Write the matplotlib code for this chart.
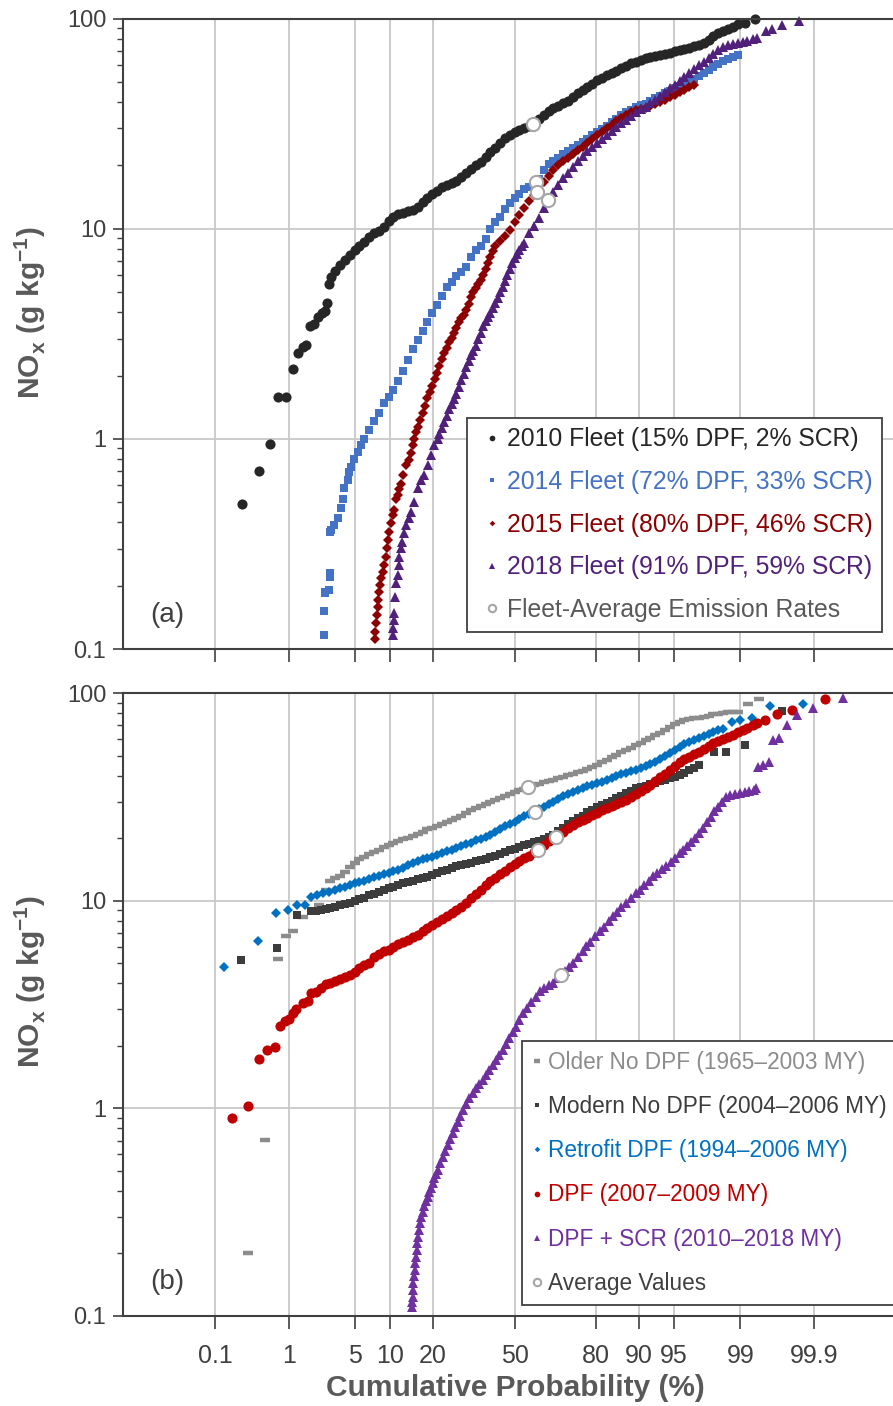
import numpy as np
import matplotlib
matplotlib.use("Agg")
import matplotlib.pyplot as plt
from matplotlib.ticker import NullLocator, LogLocator, FuncFormatter
from statistics import NormalDist

# (cumulative probability %, NOx g/kg), panel (a)
fleet_2010 = [(0.25, 0.49), (0.42, 0.70), (0.58, 0.94), (0.74, 1.58), (0.92, 1.58), (1.11, 2.15),
              (1.27, 2.56), (1.45, 2.75), (1.59, 2.81), (1.76, 3.46), (1.91, 3.52), (2.12, 3.79),
              (2.35, 3.97), (2.52, 4.07), (2.63, 4.44), (2.80, 5.47), (2.91, 5.89),
              (3.22, 6.3), (3.59, 6.7), (4.01, 7.1), (4.46, 7.5), (4.95, 7.9), (5.48, 8.3), (6.06, 8.6),
              (6.68, 9.1), (7.35, 9.5), (8.08, 9.8), (8.85, 10.2), (9.68, 10.9), (10.57, 11.4),
              (11.51, 11.7), (12.51, 11.9), (13.57, 12.1), (14.69, 12.3), (15.87, 12.7), (17.11, 13.4),
              (18.41, 14.0), (19.77, 14.6), (21.19, 15.1), (22.66, 15.7), (24.20, 16.1), (25.79, 16.5),
              (27.43, 16.9), (29.12, 17.7), (30.85, 18.4), (32.64, 19.2), (34.46, 20.0), (36.32, 20.8),
              (38.21, 21.9), (40.13, 23.2), (42.07, 24.2), (44.04, 25.5), (46.02, 27.1), (48.01, 28.0),
              (50.0, 28.7), (51.99, 29.4), (53.98, 30.0), (55.96, 30.8), (57.93, 31.8), (59.87, 33.4),
              (61.79, 34.9), (63.68, 36.3), (65.54, 37.4), (67.36, 38.4), (69.15, 39.5), (70.88, 40.5),
              (72.58, 42.3), (74.22, 44.0), (75.80, 45.5), (77.34, 47.0), (78.81, 48.9), (80.23, 50.7),
              (81.59, 52.2), (82.89, 53.8), (84.13, 55.2), (85.31, 56.5), (86.43, 58.0), (87.49, 59.6),
              (88.49, 61.1), (89.44, 62.4), (90.32, 63.8), (91.15, 65.1), (91.92, 65.9), (92.65, 66.5),
              (93.32, 67.2), (93.94, 67.9), (94.52, 68.8), (95.05, 69.7), (95.54, 70.6), (95.99, 71.6),
              (96.41, 72.7), (96.78, 73.7), (97.13, 74.9), (97.44, 76.2), (97.73, 79.0), (97.98, 83.0),
              (98.21, 85.2), (98.42, 87.4), (98.61, 89.3), (98.78, 91.3), (98.93, 94.0), (99.12, 94.7),
              (99.33, 100)]
fleet_2014 = [(2.47, 0.116), (2.47, 0.152), (2.50, 0.185), (2.55, 0.187), (2.76, 0.19), (2.85, 0.221),
              (2.85, 0.229), (2.85, 0.361), (2.91, 0.368), (3.15, 0.388), (3.40, 0.418), (3.68, 0.467),
              (3.82, 0.520), (3.96, 0.581), (4.26, 0.636), (4.42, 0.697), (4.61, 0.736), (4.92, 0.805),
              (5.28, 0.867), (5.67, 0.931), (6.06, 1.00), (6.68, 1.10), (7.35, 1.21), (8.08, 1.33),
              (8.85, 1.48), (9.68, 1.59), (10.57, 1.71), (11.51, 1.88), (12.51, 2.10), (13.57, 2.36),
              (14.69, 2.68), (15.87, 2.96), (17.11, 3.27), (18.41, 3.60), (19.77, 3.95), (21.19, 4.35),
              (22.66, 4.80), (24.20, 5.25), (25.79, 5.60), (27.43, 5.97), (29.12, 6.25), (30.85, 6.6),
              (32.64, 7.3), (34.46, 7.9), (36.32, 8.3), (38.21, 8.9), (40.13, 10.0), (42.07, 10.8),
              (44.04, 11.4), (46.02, 12.4), (48.01, 13.3), (50.0, 14.0), (51.99, 14.7), (53.98, 15.4),
              (55.96, 15.8), (57.93, 16.4), (59.87, 17.3), (61.79, 19.1), (63.68, 20.3), (65.54, 21.0),
              (67.36, 21.8), (69.15, 22.6), (70.88, 23.4), (72.58, 24.2), (74.22, 25.0), (75.80, 25.9),
              (77.34, 26.8), (78.81, 27.8), (80.23, 28.8), (81.59, 29.8), (82.89, 30.9), (84.13, 32.2),
              (85.31, 33.4), (86.43, 34.6), (87.49, 35.8), (88.49, 36.8), (89.44, 37.8), (90.32, 38.6),
              (91.15, 39.4), (91.92, 40.6), (92.65, 41.8), (93.32, 43.0), (93.94, 44.2), (94.52, 45.4),
              (95.05, 46.6), (95.54, 47.9), (95.99, 49.2), (96.41, 50.5), (96.78, 51.8), (97.13, 53.3),
              (97.44, 55.0), (97.73, 56.8), (97.98, 58.7), (98.21, 61.0), (98.42, 63.0), (98.61, 64.5),
              (98.78, 65.7), (98.93, 66.8)]
fleet_2015 = [(7.50, 0.112), (7.50, 0.121), (7.64, 0.133), (7.74, 0.145), (7.95, 0.159), (7.95, 0.171),
              (8.15, 0.187), (8.26, 0.201), (8.42, 0.217), (8.68, 0.233), (8.97, 0.251), (9.25, 0.275),
              (9.41, 0.301), (9.65, 0.330), (9.82, 0.361), (10.12, 0.396), (10.42, 0.433), (10.75, 0.458),
              (11.07, 0.520), (11.39, 0.539), (11.75, 0.575), (12.07, 0.613), (12.41, 0.671), (13.12, 0.749),
              (13.88, 0.791), (14.25, 0.86), (14.64, 0.931), (15.05, 1.00), (15.47, 1.08), (15.87, 1.14),
              (16.48, 1.23), (17.11, 1.33), (17.75, 1.44), (18.41, 1.56), (19.08, 1.67), (19.77, 1.79),
              (20.47, 1.92), (21.19, 2.06), (21.92, 2.22), (22.66, 2.39), (23.43, 2.55), (24.20, 2.72),
              (24.99, 2.88), (25.79, 3.03), (26.60, 3.20), (27.43, 3.37), (28.26, 3.58), (29.12, 3.75),
              (29.98, 3.88), (30.85, 4.10), (31.74, 4.4), (32.64, 4.75), (33.54, 5.0), (34.46, 5.2),
              (35.38, 5.45), (36.32, 5.7), (37.26, 6.0), (38.21, 6.4), (39.17, 6.85), (40.13, 7.3),
              (41.10, 7.8), (42.07, 8.3), (44.04, 8.7), (46.02, 9.2), (48.01, 9.9), (50.0, 10.7),
              (51.99, 11.6), (53.98, 12.6), (55.96, 13.6), (57.93, 14.5), (59.87, 15.4), (61.79, 16.6),
              (63.68, 17.8), (65.54, 19.0), (67.36, 20.1), (69.15, 21.0), (70.88, 21.8), (72.58, 22.7),
              (74.22, 23.6), (75.80, 24.5), (77.34, 25.5), (78.81, 26.6), (80.23, 27.8), (81.59, 28.9),
              (82.89, 30.0), (84.13, 31.2), (85.31, 32.4), (86.43, 33.6), (87.49, 34.8), (88.49, 35.8),
              (89.44, 36.5), (90.32, 37.1), (91.15, 37.7), (91.92, 38.5), (92.65, 39.3), (93.32, 40.1),
              (93.94, 41.0), (94.52, 42.1), (95.05, 43.3), (95.54, 44.6), (95.99, 45.7), (96.41, 47.0),
              (96.78, 48.2)]
fleet_2018 = [(10.42, 0.117), (10.55, 0.126), (10.75, 0.137), (10.75, 0.148), (10.87, 0.177), (11.07, 0.205),
              (11.39, 0.225), (11.59, 0.251), (11.73, 0.275), (12.07, 0.301), (12.27, 0.324), (12.78, 0.355),
              (13.12, 0.388), (13.72, 0.418), (14.26, 0.450), (15.06, 0.501), (15.87, 0.581), (16.71, 0.636),
              (17.60, 0.671), (18.49, 0.749), (19.41, 0.835), (20.39, 0.931), (21.36, 1.00), (21.92, 1.05),
              (22.66, 1.12), (23.43, 1.20), (24.20, 1.29), (24.99, 1.38), (25.79, 1.46), (26.60, 1.54),
              (27.43, 1.63), (28.26, 1.77), (29.12, 1.90), (29.98, 2.04), (30.85, 2.19), (31.74, 2.35),
              (32.64, 2.50), (33.54, 2.63), (34.46, 2.78), (35.38, 2.98), (36.32, 3.20), (37.26, 3.45),
              (38.21, 3.62), (39.17, 3.80), (40.13, 3.98), (41.10, 4.20), (42.07, 4.45), (43.05, 4.70),
              (44.04, 4.98), (45.03, 5.30), (46.02, 5.65), (47.01, 6.0), (48.01, 6.45), (49.00, 6.85),
              (50.0, 7.25), (51.00, 7.60), (51.99, 7.95), (52.99, 8.25), (53.98, 8.55), (55.96, 9.5),
              (57.93, 10.3), (59.87, 11.3), (61.79, 12.5), (63.68, 13.8), (65.54, 15.0), (67.36, 16.2),
              (69.15, 17.4), (70.88, 18.5), (72.58, 19.7), (74.22, 20.9), (75.80, 22.2), (77.34, 23.4),
              (78.81, 24.6), (80.23, 25.7), (81.59, 26.8), (82.89, 27.9), (84.13, 29.1), (85.31, 30.4),
              (86.43, 31.7), (87.49, 33.0), (88.49, 34.4), (89.44, 35.9), (90.32, 37.1), (91.15, 38.0),
              (91.92, 39.5), (92.65, 41.0), (93.32, 42.7), (93.94, 44.5), (94.52, 46.5), (95.05, 48.5),
              (95.54, 50.6), (95.99, 52.8), (96.41, 55.0), (96.78, 57.4), (97.13, 59.9), (97.44, 62.4),
              (97.73, 65.1), (97.98, 67.9), (98.21, 70.8), (98.42, 73.0), (98.61, 74.7), (98.78, 75.8),
              (98.93, 76.6), (99.06, 77.6), (99.18, 78.5), (99.29, 79.5), (99.38, 80.4), (99.52, 87.4),
              (99.60, 89.0), (99.71, 93.3), (99.83, 96.8)]
fleet_avg = [(57.49, 31.4), (58.55, 16.7), (59.10, 15.0), (63.42, 13.7)]

# panel (b)
older_nodpf = [(0.30, 0.20), (0.51, 0.705), (0.73, 5.24), (0.93, 6.74), (1.13, 7.14), (1.45, 8.3),
               (2.21, 9.53), (2.59, 11.3), (2.87, 12.5), (3.22, 12.8), (3.59, 13.2), (4.01, 13.8),
               (4.46, 14.5), (4.95, 15.2), (5.48, 15.8), (6.06, 16.2), (6.68, 16.7), (7.35, 17.1),
               (8.08, 17.6), (8.85, 18.1), (9.68, 18.6), (10.57, 19.0), (11.51, 19.4), (12.51, 19.8),
               (13.57, 20.1), (14.69, 20.5), (15.87, 20.9), (17.11, 21.5), (18.41, 22.1), (19.77, 22.5),
               (21.19, 22.9), (22.66, 23.3), (24.20, 23.8), (25.79, 24.4), (27.43, 25.0), (29.12, 25.7),
               (30.85, 26.4), (32.64, 27.3), (34.46, 27.9), (36.32, 28.6), (38.21, 29.3), (40.13, 30.0),
               (42.07, 30.6), (44.04, 31.3), (46.02, 32.0), (48.01, 32.6), (50.0, 33.3), (51.99, 34.0),
               (53.98, 34.6), (55.96, 35.3), (57.93, 36.0), (59.87, 36.6), (61.79, 37.1), (63.68, 37.7),
               (65.54, 38.3), (67.36, 38.9), (69.15, 39.5), (70.88, 40.1), (72.58, 40.8), (74.22, 41.5),
               (75.80, 42.3), (77.34, 43.2), (78.81, 44.2), (80.23, 45.2), (81.59, 46.4), (82.89, 47.7),
               (84.13, 49.0), (85.31, 50.4), (86.43, 51.8), (87.49, 53.2), (88.49, 54.6), (89.44, 56.1),
               (90.32, 57.6), (91.15, 59.2), (91.92, 60.9), (92.65, 62.5), (93.32, 64.2), (93.94, 66.3),
               (94.52, 68.8), (95.05, 71.0), (95.54, 72.9), (95.99, 74.0), (96.41, 74.8), (96.78, 75.5),
               (97.13, 76.2), (97.44, 77.0), (97.73, 77.9), (97.98, 78.8), (98.21, 79.5), (98.42, 80.2),
               (98.61, 80.8), (98.78, 81.0), (98.93, 81.0), (99.19, 88.8), (99.42, 93.9)]
modern_nodpf = [(0.24, 5.20), (0.72, 5.92), (1.25, 8.57), (1.79, 8.9), (2.02, 8.95), (2.28, 9.0),
                (2.56, 9.1), (2.87, 9.2), (3.22, 9.35), (3.59, 9.5), (4.01, 9.6), (4.46, 9.75),
                (4.95, 9.95), (5.48, 10.15), (6.06, 10.35), (6.68, 10.6), (7.35, 10.8), (8.08, 11.0),
                (8.85, 11.2), (9.68, 11.45), (10.57, 11.7), (11.51, 11.95), (12.51, 12.2), (13.57, 12.35),
                (14.69, 12.5), (15.87, 12.65), (17.11, 12.85), (18.41, 13.05), (19.77, 13.25), (21.19, 13.55),
                (22.66, 13.85), (24.20, 14.1), (25.79, 14.4), (27.43, 14.65), (29.12, 14.85), (30.85, 15.0),
                (32.64, 15.2), (34.46, 15.45), (36.32, 15.7), (38.21, 15.9), (40.13, 16.2), (42.07, 16.5),
                (44.04, 16.8), (46.02, 17.1), (48.01, 17.5), (50.0, 17.8), (51.99, 18.2), (53.98, 18.5),
                (55.96, 18.8), (57.93, 19.1), (59.87, 19.4), (61.79, 19.8), (63.68, 20.3), (65.54, 20.8),
                (67.36, 21.6), (69.15, 22.4), (70.88, 23.3), (72.58, 24.1), (74.22, 24.9), (75.80, 25.7),
                (77.34, 26.6), (78.81, 27.4), (80.23, 28.1), (81.59, 28.8), (82.89, 29.6), (84.13, 30.3),
                (85.31, 31.1), (86.43, 32.0), (87.49, 32.9), (88.49, 33.8), (89.44, 34.7), (90.32, 35.3),
                (91.15, 35.8), (91.92, 36.4), (92.65, 37.0), (93.32, 37.6), (93.94, 38.2), (94.52, 38.8),
                (95.05, 39.6), (95.54, 40.5), (95.99, 41.4), (96.41, 42.5), (96.78, 43.7), (97.13, 45.0),
                (98.03, 51.8), (98.54, 52.1), (99.12, 56.4), (99.71, 81.6)]
retrofit_dpf = [(0.135, 4.80), (0.41, 6.41), (0.69, 8.73), (0.98, 9.06), (1.24, 9.50), (1.52, 9.50),
                (1.79, 10.4), (2.08, 10.7), (2.39, 10.9), (2.80, 11.0), (3.22, 11.3), (3.59, 11.5),
                (4.01, 11.7), (4.46, 11.9), (4.95, 12.1), (5.48, 12.3), (6.06, 12.5), (6.68, 12.75),
                (7.35, 13.0), (8.08, 13.2), (8.85, 13.4), (9.68, 13.6), (10.57, 13.85), (11.51, 14.1),
                (12.51, 14.4), (13.57, 14.8), (14.69, 15.2), (15.87, 15.55), (17.11, 15.8), (18.41, 16.0),
                (19.77, 16.3), (21.19, 16.6), (22.66, 16.95), (24.20, 17.3), (25.79, 17.6), (27.43, 17.95),
                (29.12, 18.3), (30.85, 18.65), (32.64, 19.05), (34.46, 19.5), (36.32, 19.9), (38.21, 20.25),
                (40.13, 20.8), (42.07, 21.5), (44.04, 22.2), (46.02, 22.8), (48.01, 23.3), (50.0, 24.0),
                (51.99, 24.8), (53.98, 25.5), (55.96, 26.2), (57.93, 26.8), (59.87, 27.5), (61.79, 28.3),
                (63.68, 29.2), (65.54, 30.0), (67.36, 31.0), (69.15, 31.8), (70.88, 32.6), (72.58, 33.4),
                (74.22, 34.1), (75.80, 34.8), (77.34, 35.5), (78.81, 36.1), (80.23, 36.7), (81.59, 37.3),
                (82.89, 38.0), (84.13, 38.9), (85.31, 39.8), (86.43, 40.6), (87.49, 41.3), (88.49, 41.9),
                (89.44, 42.5), (90.32, 43.4), (91.15, 44.4), (91.92, 45.4), (92.65, 46.6), (93.32, 48.0),
                (93.94, 49.7), (94.52, 51.4), (95.05, 53.1), (95.54, 54.8), (95.99, 56.6), (96.41, 58.0),
                (96.78, 59.3), (97.13, 60.6), (97.44, 61.9), (97.73, 63.4), (97.98, 64.9), (98.21, 66.0),
                (98.42, 67.0), (98.75, 72.2), (99.00, 74.3), (99.28, 75.8), (99.58, 86.3), (99.85, 88.5)]
dpf_0709 = [(0.18, 0.895), (0.30, 1.03), (0.42, 1.72), (0.54, 1.90), (0.67, 1.97), (0.77, 2.49),
            (0.89, 2.64), (1.01, 2.69), (1.11, 2.87), (1.22, 3.00), (1.45, 3.23), (1.65, 3.27),
            (1.79, 3.58), (2.02, 3.65), (2.28, 3.8), (2.56, 3.95), (2.87, 4.03), (3.22, 4.10),
            (3.59, 4.18), (4.01, 4.28), (4.46, 4.40), (4.95, 4.52), (5.48, 4.73), (6.06, 4.92),
            (6.68, 5.01), (7.35, 5.33), (8.08, 5.55), (8.85, 5.70), (9.68, 5.78), (10.57, 6.0),
            (11.51, 6.17), (12.51, 6.3), (13.57, 6.45), (14.69, 6.65), (15.87, 6.87), (17.11, 7.12),
            (18.41, 7.37), (19.77, 7.62), (21.19, 7.88), (22.66, 8.18), (24.20, 8.45), (25.79, 8.72),
            (27.43, 9.0), (29.12, 9.35), (30.85, 9.75), (32.64, 10.3), (34.46, 10.8), (36.32, 11.3),
            (38.21, 11.9), (40.13, 12.4), (42.07, 12.9), (44.04, 13.4), (46.02, 13.9), (48.01, 14.5),
            (50.0, 15.0), (51.99, 15.5), (53.98, 16.0), (55.96, 16.5), (57.93, 17.1), (59.87, 17.7),
            (61.79, 18.5), (63.68, 19.3), (65.54, 20.0), (67.36, 20.7), (69.15, 21.5), (70.88, 22.4),
            (72.58, 23.2), (74.22, 23.9), (75.80, 24.5), (77.34, 25.1), (78.81, 25.8), (80.23, 26.5),
            (81.59, 27.3), (82.89, 28.0), (84.13, 28.6), (85.31, 29.2), (86.43, 29.8), (87.49, 30.6),
            (88.49, 31.7), (89.44, 32.8), (90.32, 33.9), (91.15, 35.0), (91.92, 36.1), (92.65, 37.5),
            (93.32, 39.2), (93.94, 40.9), (94.52, 42.7), (95.05, 44.5), (95.54, 46.3), (95.99, 47.9),
            (96.41, 49.3), (96.78, 50.6), (97.13, 52.0), (97.44, 53.5), (97.73, 55.4), (97.98, 57.3),
            (98.21, 58.8), (98.42, 60.1), (98.61, 61.5), (98.78, 63.0), (98.93, 64.7), (99.06, 66.5),
            (99.18, 68.0), (99.29, 69.8), (99.38, 71.8), (99.51, 73.9), (99.66, 79.5), (99.79, 83.1),
            (99.93, 93.6)]
dpf_scr = [(14.49, 0.110), (14.57, 0.117), (14.64, 0.124), (14.73, 0.134), (14.83, 0.144), (14.97, 0.155),
           (15.13, 0.167), (15.30, 0.180), (15.47, 0.193), (15.63, 0.208), (15.80, 0.224), (16.04, 0.241),
           (16.29, 0.260), (16.48, 0.280), (16.71, 0.301), (17.16, 0.318), (17.60, 0.337), (18.04, 0.356),
           (18.49, 0.376), (18.94, 0.394), (19.41, 0.413), (19.91, 0.437), (20.39, 0.461), (20.87, 0.483),
           (21.36, 0.505), (22.13, 0.545), (22.91, 0.585), (23.70, 0.625), (24.48, 0.667), (25.30, 0.711),
           (26.15, 0.759), (26.96, 0.810), (27.83, 0.863), (28.71, 0.920), (29.60, 0.982), (30.85, 1.05),
           (32.03, 1.12), (33.25, 1.18), (34.49, 1.25), (35.76, 1.31), (37.07, 1.37), (38.40, 1.45),
           (39.71, 1.53), (41.02, 1.62), (42.35, 1.71), (43.72, 1.81), (45.07, 1.91), (46.41, 2.04),
           (47.81, 2.17), (49.16, 2.32), (50.52, 2.47), (51.91, 2.66), (53.27, 2.87), (54.97, 3.05),
           (56.75, 3.25), (58.51, 3.45), (60.18, 3.66), (61.79, 3.80), (63.68, 3.94), (65.36, 4.02),
           (67.00, 4.25), (68.47, 4.41), (69.85, 4.58), (71.23, 4.78), (72.61, 5.01), (74.22, 5.35),
           (75.80, 5.72), (77.00, 6.03), (78.22, 6.35), (79.67, 6.75), (80.94, 7.13), (82.12, 7.5),
           (83.40, 7.95), (84.46, 8.41), (85.54, 8.85), (86.43, 9.3), (87.51, 9.75), (88.49, 10.3),
           (89.44, 10.9), (90.12, 11.3), (90.82, 11.9), (91.62, 12.5), (92.30, 13.1), (92.92, 13.6),
           (93.57, 14.2), (94.11, 14.7), (94.63, 15.4), (95.05, 16.1), (95.55, 17.0), (95.91, 17.6),
           (96.25, 18.4), (96.56, 19.2), (96.86, 20.1), (97.13, 21.2), (97.38, 22.5), (97.61, 23.9),
           (97.83, 25.4), (98.03, 27.1), (98.21, 28.4), (98.38, 30.0), (98.54, 31.6), (98.68, 32.2),
           (98.84, 32.6), (98.98, 33.0), (99.11, 33.3), (99.22, 33.6), (99.31, 34.2), (99.35, 34.9),
           (99.39, 44.1), (99.47, 45.2), (99.56, 46.6), (99.61, 59.6), (99.68, 60.7), (99.75, 69.8),
           (99.82, 78.7), (99.895, 84.7), (99.964, 94.6)]
group_avg = [(55.45, 35.1), (58.16, 26.8), (59.48, 17.5), (66.38, 20.2), (68.47, 4.41)]

prob_ticks = [0.1, 1, 5, 10, 20, 50, 80, 90, 95, 99, 99.9]
prob_labels = ["0.1", "1", "5", "10", "20", "50", "80", "90", "95", "99", "99.9"]

plt.rcParams["font.family"] = ["Liberation Sans", "DejaVu Sans"]
plt.rcParams["mathtext.fontset"] = "custom"
plt.rcParams["mathtext.rm"] = "Liberation Sans"
plt.rcParams["mathtext.bf"] = "Liberation Sans:bold"
DARK = "#404040"
LABEL = "#595959"

_nd = NormalDist()
_ppf = np.vectorize(_nd.inv_cdf, otypes=[float])
_cdf = np.vectorize(_nd.cdf, otypes=[float])


def prob_fwd(p):
    p = np.clip(np.asarray(p, dtype=float), 1e-7, 100 - 1e-7)
    return _ppf(p / 100.0)


def prob_inv(z):
    return _cdf(np.asarray(z, dtype=float)) * 100.0


def draw(ax, data, marker, color, ms, **kw):
    p, v = zip(*data)
    line, = ax.plot(p, v, ls="none", marker=marker, ms=ms, color=color, mec=color,
                    mew=kw.pop("mew", 0), clip_on=False, **kw)
    return line


def setup(ax, show_labels):
    ax.set_xscale("function", functions=(prob_fwd, prob_inv))
    ax.set_yscale("log")
    ax.set_xlim(0.0027, 99.9952)
    ax.set_ylim(0.1, 100)
    ax.xaxis.set_minor_locator(NullLocator())
    if show_labels:
        ax.set_xticks(prob_ticks, labels=prob_labels, fontsize=18, color=DARK)
    else:
        ax.set_xticks(prob_ticks, labels=[""] * len(prob_ticks))
    ax.yaxis.set_major_locator(LogLocator(base=10))
    ax.yaxis.set_minor_locator(LogLocator(base=10, subs=np.arange(2, 10)))
    ax.yaxis.set_major_formatter(FuncFormatter(lambda v, _: "%g" % v))
    ax.grid(True, which="major", color="#C8C8C8", lw=1.3)
    ax.set_axisbelow(True)
    for s in ["left", "top", "bottom"]:
        ax.spines[s].set_color(DARK)
        ax.spines[s].set_linewidth(1.5)
    ax.spines["right"].set_visible(False)
    ax.tick_params(axis="x", which="major", direction="out", length=9, width=1.2, color=DARK, pad=11)
    ax.tick_params(axis="y", which="major", direction="out", length=7, width=1.2, color=DARK,
                   labelsize=17, labelcolor=DARK, pad=5)
    ax.tick_params(axis="y", which="minor", direction="out", length=4, width=1.0, color=DARK)


fig = plt.figure(figsize=(8.93, 14.06), dpi=100)
ax_a = fig.add_axes([123 / 893, 1 - 649 / 1406, 770 / 893, (649 - 18.5) / 1406])
ax_b = fig.add_axes([123 / 893, 1 - 1316 / 1406, 770 / 893, (1316 - 693) / 1406])
setup(ax_a, False)
setup(ax_b, True)

# panel (a)
h = [draw(ax_a, fleet_2010, "o", "#262626", 7.3),
     draw(ax_a, fleet_2014, "s", "#4472C4", 6.3),
     draw(ax_a, fleet_2015, "D", "#8B0000", 5.0),
     draw(ax_a, fleet_2018, "^", "#50207A", 7.1),
     draw(ax_a, fleet_avg, "o", "white", 9.5, mew=1.5)]
h[-1].set_markeredgecolor("#A6A6A6")
labels_a = ["2010 Fleet (15% DPF, 2% SCR)", "2014 Fleet (72% DPF, 33% SCR)",
            "2015 Fleet (80% DPF, 46% SCR)", "2018 Fleet (91% DPF, 59% SCR)",
            "Fleet-Average Emission Rates"]
leg = ax_a.legend(h, labels_a, loc="lower left", bbox_to_anchor=(0.4468, 0.027), fontsize=17.8,
                  markerscale=0.56, handlelength=1.2, handletextpad=0.0, labelspacing=0.755,
                  borderpad=0.4, borderaxespad=0, fancybox=False, framealpha=1, edgecolor=DARK,
                  labelcolor=["#262626", "#4472C4", "#8B0000", "#50207A", LABEL])
leg.get_frame().set_linewidth(1.3)
ax_a.text(0.057, 0.054, "(a)", transform=ax_a.transAxes, ha="center", va="center",
          fontsize=20, color=DARK)

# panel (b)
h = [draw(ax_b, older_nodpf, "_", "#8C8C8C", 7.0, mew=3.2),
     draw(ax_b, modern_nodpf, "s", "#3C3C3C", 6.3),
     draw(ax_b, retrofit_dpf, "D", "#0070C0", 5.0),
     draw(ax_b, dpf_0709, "o", "#C00000", 7.3),
     draw(ax_b, dpf_scr, "^", "#7030A0", 7.1),
     draw(ax_b, group_avg, "o", "white", 9.5, mew=1.5)]
h[-1].set_markeredgecolor("#A6A6A6")
labels_b = ["Older No DPF (1965\u20132003 MY)", "Modern No DPF (2004\u20132006 MY)",
            "Retrofit DPF (1994\u20132006 MY)", "DPF (2007\u20132009 MY)",
            "DPF + SCR (2010\u20132018 MY)", "Average Values"]
leg = ax_b.legend(h, labels_b, loc="lower left", bbox_to_anchor=(0.518, 0.0177), fontsize=16.3,
                  markerscale=0.56, handlelength=0.4, handletextpad=0.29, labelspacing=0.93,
                  borderpad=0.46, borderaxespad=0, fancybox=False, framealpha=1, edgecolor=DARK,
                  labelcolor=["#8C8C8C", "#3C3C3C", "#0070C0", "#C00000", "#7030A0", DARK])
leg.get_frame().set_linewidth(1.3)
ax_b.text(0.057, 0.0546, "(b)", transform=ax_b.transAxes, ha="center", va="center",
          fontsize=20, color=DARK)

ylab = "NO$_\\mathbf{x}$ (g kg$^\\mathbf{-1}$)"
fig.text(30 / 893, 1 - 313 / 1406, ylab, rotation=90, ha="center", va="center",
         fontsize=21.5, fontweight="bold", color=LABEL)
fig.text(30 / 893, 1 - 982 / 1406, ylab, rotation=90, ha="center", va="center",
         fontsize=21.5, fontweight="bold", color=LABEL)
fig.text(515 / 893, 1 - 1388 / 1406, "Cumulative Probability (%)", ha="center", va="center",
         fontsize=21.5, fontweight="bold", color=LABEL)

fig.savefig("out.png", dpi=100)
